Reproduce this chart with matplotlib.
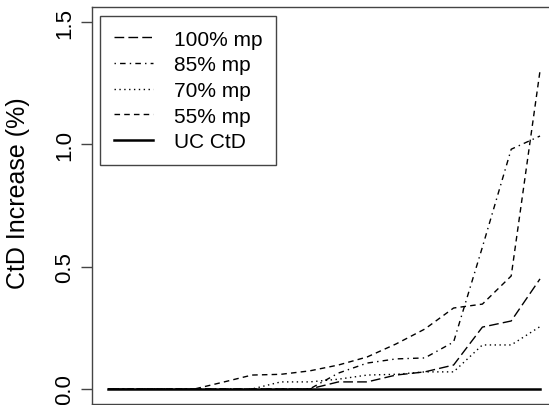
import numpy as np
import matplotlib
matplotlib.use("Agg")
import matplotlib.pyplot as plt

plt.rcParams['font.family'] = ['Liberation Sans', 'DejaVu Sans']

# Values (16 steps)
steps = np.arange(1, 17)
mp100 = [0, 0, 0, 0, 0, 0, 0, 0, 0.029, 0.029, 0.057, 0.07, 0.098, 0.253, 0.278, 0.45]
mp85 = [0, 0, 0, 0, 0, 0, 0, 0, 0.065, 0.106, 0.123, 0.127, 0.192, 0.58, 0.98, 1.034]
mp70 = [0, 0, 0, 0, 0, 0, 0.029, 0.029, 0.04, 0.057, 0.06, 0.07, 0.07, 0.18, 0.18, 0.255]
mp55 = [0, 0, 0, 0, 0.028, 0.057, 0.06, 0.074, 0.098, 0.131, 0.184, 0.245, 0.331, 0.347, 0.462, 1.30]
uc_ctd = [0] * 16

W, H = 549, 406
fig = plt.figure(figsize=(W / 100, H / 100), dpi=100)
# plot region runs past the right edge of the picture
left_px, right_px, top_px, bot_px = 92, 560, 8, 405
ax = fig.add_axes([left_px / W, 1 - bot_px / H,
                   (right_px - left_px) / W, (bot_px - top_px) / H])

ax.plot(steps, mp100, color="black", lw=1.0, dashes=(7, 3), label="100% mp")
ax.plot(steps, mp85, color="black", lw=1.0, dashes=(1, 3, 4, 3), label="85% mp")
ax.plot(steps, mp70, color="black", lw=1.0, dashes=(1, 2.5), label="70% mp")
ax.plot(steps, mp55, color="black", lw=1.0, dashes=(4, 3), label="55% mp")
ax.plot(steps, uc_ctd, color="black", lw=1.8, label="UC CtD")

px_per_step = 28.8
ax.set_xlim(1 - (108 - left_px) / px_per_step, 16 + (right_px - 540) / px_per_step)
px_per_unit = (390 - 23) / 1.5
ax.set_ylim(-(bot_px - 390) / px_per_unit, 1.5 + (23 - top_px) / px_per_unit)

ax.set_xticks([])
ax.set_yticks([0, 0.5, 1.0, 1.5])
ax.set_yticklabels(["0.0", "0.5", "1.0", "1.5"], rotation=90, va="center")
ax.tick_params(axis="y", length=8, width=1, labelsize=16, pad=4, color="#444444")
for s in ax.spines.values():
    s.set_color("#444444")
    s.set_linewidth(1)

ax.set_ylabel("CtD Increase (%)", fontsize=18)
ax.yaxis.set_label_coords((30 - left_px) / (right_px - left_px), (bot_px - 193) / (bot_px - top_px))

leg = ax.legend(loc="upper left", bbox_to_anchor=(100 / W, 1 - 17 / H),
                bbox_transform=fig.transFigure, fontsize=15, frameon=True,
                fancybox=False, edgecolor="#444444", framealpha=1,
                handlelength=1.9, handletextpad=1.0, labelspacing=0.32,
                borderpad=0.65, borderaxespad=0)
leg.get_frame().set_linewidth(1)

fig.savefig("out.png", dpi=100)
